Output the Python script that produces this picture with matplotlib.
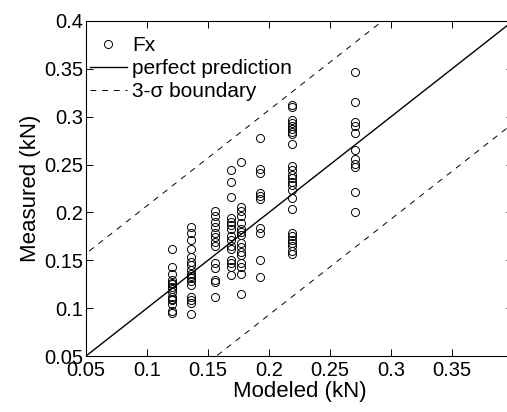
import numpy as np
import matplotlib
matplotlib.use("Agg")
import matplotlib.pyplot as plt

plt.rcParams['font.family'] = ['Liberation Sans', 'DejaVu Sans']

# modeled values (column positions) and measured values per column
modeled_levels = [0.1205, 0.136, 0.1557, 0.169, 0.177, 0.1926, 0.219, 0.2705]
measured_by_level = [
    [0.162, 0.143, 0.136, 0.129, 0.126, 0.125, 0.122, 0.120, 0.117, 0.112, 0.110, 0.108, 0.104, 0.097, 0.095],
    [0.185, 0.178, 0.171, 0.162, 0.153, 0.148, 0.145, 0.140, 0.136, 0.134, 0.131, 0.128, 0.124, 0.112, 0.108, 0.105, 0.094],
    [0.202, 0.196, 0.190, 0.185, 0.178, 0.174, 0.169, 0.165, 0.147, 0.142, 0.129, 0.127, 0.112],
    [0.244, 0.232, 0.216, 0.194, 0.190, 0.187, 0.183, 0.175, 0.171, 0.165, 0.162, 0.150, 0.147, 0.143, 0.135],
    [0.253, 0.206, 0.202, 0.196, 0.189, 0.183, 0.180, 0.176, 0.168, 0.164, 0.159, 0.156, 0.147, 0.143, 0.136, 0.115],
    [0.278, 0.245, 0.241, 0.220, 0.217, 0.214, 0.184, 0.179, 0.150, 0.133],
    [0.312, 0.310, 0.297, 0.293, 0.290, 0.287, 0.284, 0.282, 0.272, 0.248, 0.244, 0.239, 0.236, 0.232,
     0.229, 0.223, 0.215, 0.204, 0.178, 0.175, 0.171, 0.168, 0.165, 0.160, 0.157],
    [0.347, 0.315, 0.295, 0.290, 0.283, 0.265, 0.256, 0.251, 0.247, 0.221, 0.200],
]
sigma3 = 0.107
x_ticks = [0.05, 0.1, 0.15, 0.2, 0.25, 0.3, 0.35]
y_ticks = [0.05, 0.1, 0.15, 0.2, 0.25, 0.3, 0.35, 0.4]
x_tick_labels = ['0.05', '0.1', '0.15', '0.2', '0.25', '0.3', '0.35']
y_tick_labels = ['0.05', '0.1', '0.15', '0.2', '0.25', '0.3', '0.35', '0.4']

xs = []
ys = []
for xm, vals in zip(modeled_levels, measured_by_level):
    xs.extend([xm] * len(vals))
    ys.extend(vals)

fig = plt.figure(figsize=(5.07, 4.12), dpi=100)
ax = fig.add_axes([86/507, 1 - 356/412, (513 - 86)/507, (356 - 21)/412])

ax.plot(xs, ys, 'o', mfc='none', mec='black', ms=5.8, mew=0.7, ls='none', label='Fx')
line = np.array([0.0, 0.5])
ax.plot(line, line, '-', color='black', lw=1.0, label='perfect prediction')
ax.plot(line, line + sigma3, '--', color='black', lw=0.7, dashes=(6, 6), label='3-σ boundary')
ax.plot(line, line - sigma3, '--', color='black', lw=0.7, dashes=(6, 6))

ax.set_xlim(0.05, 0.4)
ax.set_ylim(0.05, 0.4)
ax.set_xticks(x_ticks)
ax.set_xticklabels(x_tick_labels)
ax.set_yticks(y_ticks)
ax.set_yticklabels(y_tick_labels)
ax.tick_params(direction='in', top=True, right=True, length=5, width=0.7, labelsize=14.5, pad=2)
ax.tick_params(axis='x', pad=3.5)
for s in ax.spines.values():
    s.set_linewidth(0.8)
ax.set_xlabel('Modeled (kN)', fontsize=16, labelpad=1)
ax.set_ylabel('Measured (kN)', fontsize=16, labelpad=2)

leg = ax.legend(loc='upper left', bbox_to_anchor=(0.0, 1 - 11/335), frameon=False, fontsize=15,
                handlelength=1.75, handletextpad=0.25, borderpad=0.1, borderaxespad=0.1,
                labelspacing=0.2)

fig.savefig('out.png', dpi=100)
